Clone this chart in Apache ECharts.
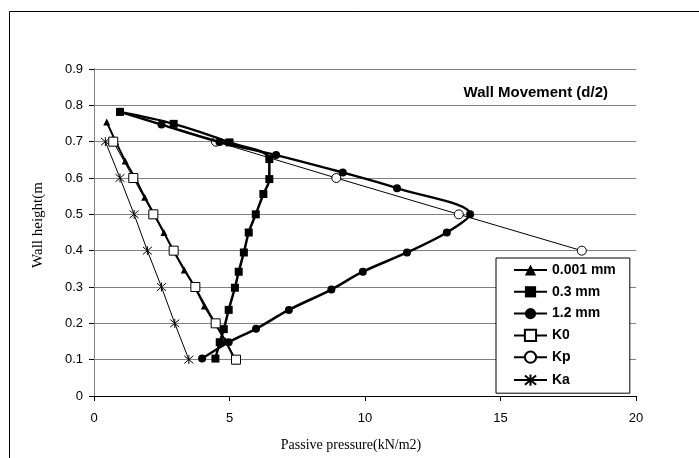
<!DOCTYPE html>
<html><head><meta charset="utf-8">
<script src="https://cdn.jsdelivr.net/npm/echarts@6/dist/echarts.min.js"></script>
<style>html,body{margin:0;padding:0;background:#fff}#c{width:699px;height:458px}</style>
</head><body><div id="c"></div>
<script>
// ---- data ----
const s001_x = [0.47,0.80,1.15,1.52,1.87,2.22,2.58,2.93,3.33,3.72,4.07,4.46,4.85,5.22];
const s001_y = [0.754,0.70,0.647,0.60,0.547,0.50,0.45,0.40,0.347,0.30,0.248,0.20,0.152,0.097];

const s03_x = [0.96,2.94,5.00,6.47,6.47,6.25,5.97,5.71,5.53,5.34,5.20,4.97,4.79,4.64,4.48];
const s03_y = [0.782,0.749,0.698,0.652,0.597,0.556,0.50,0.45,0.395,0.342,0.298,0.237,0.184,0.148,0.103];

const s12_x = [0.96,2.49,4.63,6.72,9.18,11.18,13.88,13.02,11.55,9.92,8.76,7.19,5.98,4.97,3.99];
const s12_y = [0.782,0.747,0.699,0.663,0.615,0.572,0.50,0.45,0.395,0.342,0.293,0.237,0.185,0.148,0.103];

const k0_x = [0.71,1.45,2.19,2.94,3.74,4.49,5.24];
const k0_y = [0.70,0.60,0.50,0.40,0.30,0.20,0.10];

const kp_x = [4.50,8.94,13.46,18.0];
const kp_y = [0.70,0.60,0.50,0.40];

const ka_x = [0.42,0.96,1.48,1.97,2.49,2.98,3.50];
const ka_y = [0.70,0.60,0.50,0.40,0.30,0.20,0.10];

const seriesNames = ['0.001 mm','0.3 mm','1.2 mm','K0','Kp','Ka'];
const xTicks = [0,5,10,15,20];
const yTicks = [0,0.1,0.2,0.3,0.4,0.5,0.6,0.7,0.8,0.9];
const chartTitle = 'Wall Movement (d/2)';
const xTitle = 'Passive pressure(kN/m2)';
const yTitle = 'Wall height(m';

const pairs = (xs, ys) => xs.map((x, i) => [x, ys[i]]);
const asterisk = 'path://M0,0L10,10M10,0L0,10M5,-1L5,11';

const chart = echarts.init(document.getElementById('c'), null, {renderer: 'canvas'});
const sans = 'Liberation Sans, Arial, sans-serif';
const serif = 'Liberation Serif, Times New Roman, serif';

chart.setOption({
  animation: false,
  backgroundColor: '#fff',
  title: {
    text: chartTitle,
    right: 86, top: 80,
    textStyle: {fontFamily: sans, fontSize: 15, fontWeight: 'bold', color: '#000'}
  },
  graphic: [{
    type: 'rect', shape: {x: 9.5, y: 11.5, width: 720, height: 470},
    style: {fill: 'none', stroke: '#000', lineWidth: 1}, z: -1
  }, {
    type: 'text', x: 351, y: 445,
    style: {text: xTitle, font: '14px ' + serif, fill: '#000', align: 'center', verticalAlign: 'middle'}
  }, {
    type: 'text', x: 38, y: 225, rotation: Math.PI / 2,
    style: {text: yTitle, font: '15px ' + serif, fill: '#000', align: 'center', verticalAlign: 'middle'}
  }],
  grid: {left: 94, right: 63, top: 69, bottom: 62, containLabel: false},
  legend: {
    data: seriesNames,
    orient: 'vertical',
    left: 496, top: 258,
    itemWidth: 33, itemHeight: 14, itemGap: 7.8,
    padding: [5, 14, 5, 17],
    backgroundColor: '#fff',
    borderColor: '#000', borderWidth: 1,
    textStyle: {fontFamily: sans, fontSize: 14, fontWeight: 'bold', color: '#000'}
  },
  xAxis: {
    type: 'value', min: 0, max: 20, interval: 5,
    axisLine: {show: true, onZero: false, lineStyle: {color: '#000', width: 1}},
    axisTick: {show: true, inside: false, length: 5, lineStyle: {color: '#000'}},
    axisLabel: {fontFamily: sans, fontSize: 13, color: '#000', margin: 16,
      formatter: v => xTicks.includes(v) ? String(v) : ''},
    splitLine: {show: false}
  },
  yAxis: [{
    type: 'value', min: 0, max: 0.9, interval: 0.1,
    axisLine: {show: true, onZero: false, lineStyle: {color: '#000', width: 1}},
    axisTick: {show: true, inside: false, length: 5, lineStyle: {color: '#000'}},
    axisLabel: {fontFamily: sans, fontSize: 13, color: '#000', margin: 11,
      formatter: v => { const t = yTicks.find(k => Math.abs(k - v) < 1e-9); return t === undefined ? '' : String(t); }},
    splitLine: {show: true, lineStyle: {color: '#808080', width: 1}}
  }, {
    type: 'value', min: 0, max: 0.9, interval: 0.1, position: 'right',
    axisLine: {show: true, lineStyle: {color: '#808080', width: 1}},
    axisTick: {show: false}, axisLabel: {show: false}, splitLine: {show: false}
  }],
  series: [
    {name: '0.001 mm', type: 'line', data: pairs(s001_x, s001_y),
     symbol: 'triangle', symbolSize: 7, lineStyle: {color: '#000', width: 2},
     itemStyle: {color: '#000'}, z: 3},
    {name: '0.3 mm', type: 'line', data: pairs(s03_x, s03_y), smooth: 0.35,
     symbol: 'rect', symbolSize: 8, lineStyle: {color: '#000', width: 2.5},
     itemStyle: {color: '#000'}, z: 3},
    {name: '1.2 mm', type: 'line', data: pairs(s12_x, s12_y), smooth: 0.35,
     symbol: 'circle', symbolSize: 8, lineStyle: {color: '#000', width: 2.5},
     itemStyle: {color: '#000'}, z: 3},
    {name: 'K0', type: 'line', data: pairs(k0_x, k0_y),
     symbol: 'rect', symbolSize: 9, lineStyle: {color: '#000', width: 1},
     itemStyle: {color: '#fff', borderColor: '#000', borderWidth: 1}, z: 4},
    {name: 'Kp', type: 'line', data: pairs(kp_x, kp_y),
     symbol: 'circle', symbolSize: 9, lineStyle: {color: '#000', width: 1},
     itemStyle: {color: '#fff', borderColor: '#000', borderWidth: 1}, z: 2},
    {name: 'Ka', type: 'line', data: pairs(ka_x, ka_y),
     symbol: asterisk, symbolSize: 9, lineStyle: {color: '#000', width: 1},
     itemStyle: {color: 'none', borderColor: '#000', borderWidth: 1}, z: 2}
  ]
});
</script></body></html>
